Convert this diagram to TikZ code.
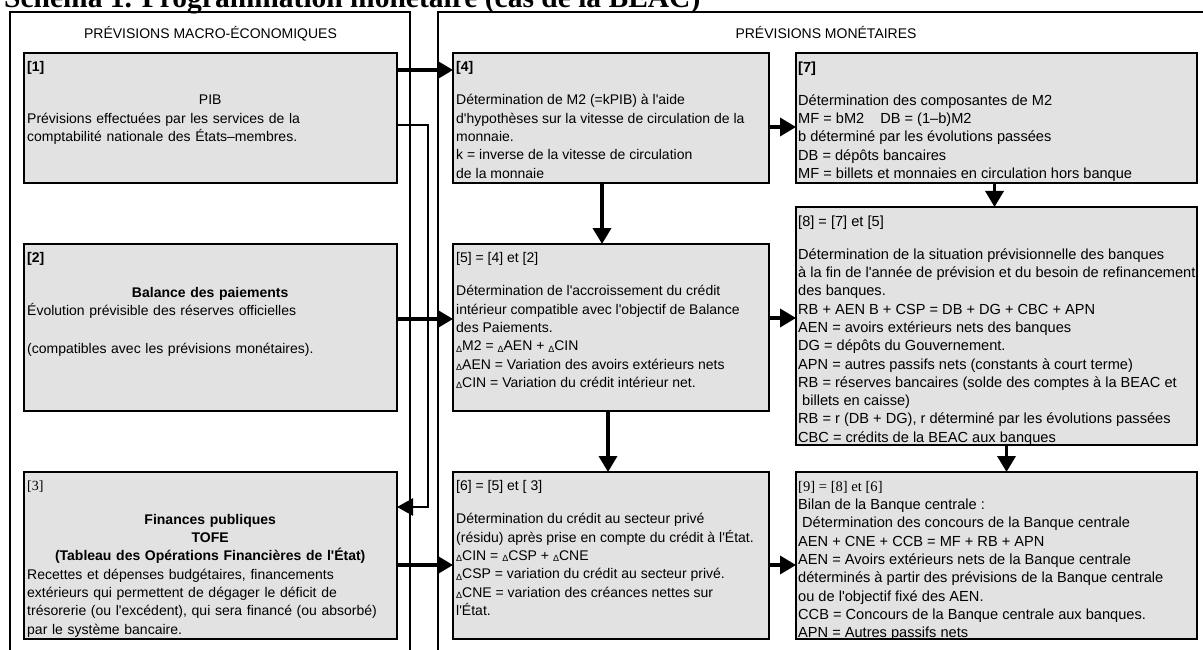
\documentclass[tikz,border=0pt]{standalone}
\usepackage{fontspec}
\newfontfamily\arialfont{Liberation Sans}
\newfontfamily\timesfont{Liberation Serif}
\usetikzlibrary{positioning, arrows.meta}
\definecolor{boxgray}{RGB}{226,226,226}
\newcommand{\dlt}{\raisebox{-1.5pt}{\fontsize{9}{9}\selectfont Δ}}

\begin{document}
\begin{tikzpicture}[
    x=1pt, y=-1pt,
    frame/.style={draw, line width=1.4pt, anchor=north west, inner sep=0pt, outer sep=0pt},
    box/.style={draw, fill=boxgray, line width=1.8pt, inner sep=0pt, outer sep=0pt},
    txt/.style={align=left, inner sep=0pt, font=\arialfont\fontsize{14}{18.3}\selectfont},
    txtwide/.style={txt, font=\arialfont\fontsize{14.6}{18.3}\selectfont},
    head/.style={anchor=base, inner sep=0pt, font=\arialfont\fontsize{14}{17}\selectfont},
    arrow/.style={draw, line width=3.5pt, -{Triangle[length=16pt, width=18pt]}},
    link/.style={draw, line width=2.5pt, -{Triangle[length=16pt, width=17pt]}}
  ]
  \useasboundingbox (0,0) rectangle (1203,650);

  \node (title) [anchor=base west, inner sep=0pt, font=\timesfont\bfseries\fontsize{29.5}{30}\selectfont]
    at (4,8) {Schéma 1. Programmation monétaire (cas de la BEAC)};

  % frames
  \node (macro) [frame, minimum width=400pt, minimum height=700pt] at (10,12) {};
  \node (monet) [frame, minimum width=900pt, minimum height=700pt] at (438,12) {};
  \node (hmacro) [head] at (210.5,39) {PRÉVISIONS MACRO-ÉCONOMIQUES};
  \node (hmonet) [head] at (826,39) {PRÉVISIONS MONÉTAIRES};

  % boxes
  \node (b1) [box, minimum width=373pt, minimum height=130pt, anchor=north west] at (24,53) {};
  \node (b2) [box, minimum width=373pt, minimum height=167pt, below=61pt of b1] {};
  \node (b3) [box, minimum width=373pt, minimum height=167pt, below=61pt of b2] {};
  \node (b4) [box, minimum width=316pt, minimum height=130pt, right=56pt of b1] {};
  \node (b5) [box, minimum width=316pt, minimum height=167pt, below=61pt of b4] {};
  \node (b6) [box, minimum width=316pt, minimum height=167pt, below=61pt of b5] {};
  \node (b7) [box, minimum width=401pt, minimum height=130pt, right=27pt of b4] {};
  \node (b8) [box, minimum width=401pt, minimum height=238pt, below=24pt of b7] {};
  \node (b9) [box, minimum width=401pt, minimum height=167pt, below=27pt of b8] {};

  % texts
  \node (t1) [txt, text width=366pt, below right=8.5pt and 3pt of b1.north west] {%
    \textbf{[1]}\\[14.7pt]
    \makebox[\linewidth]{PIB}\\
    Prévisions effectuées par les services de la\\
    comptabilité nationale des États–membres.};
  \node (t2) [txt, text width=366pt, below right=8.5pt and 3pt of b2.north west] {%
    \textbf{[2]}\\[16pt]
    \makebox[\linewidth]{\textbf{Balance des paiements}}\\
    Évolution prévisible des réserves officielles\\[20pt]
    (compatibles avec les prévisions monétaires).};
  \node (t3) [txt, text width=366pt, below right=9pt and 3pt of b3.north west] {%
    {\timesfont [3]}\\[15pt]
    \makebox[\linewidth]{\textbf{Finances publiques}}\\
    \makebox[\linewidth]{\textbf{TOFE}}\\
    \makebox[\linewidth]{\textbf{(Tableau des Opérations Financières de l'État)}}\\
    Recettes et dépenses budgétaires, financements\\
    extérieurs qui permettent de dégager le déficit de\\
    trésorerie (ou l'excédent), qui sera financé (ou absorbé)\\
    par le système bancaire.};
  \node (t4) [txt, below right=8.5pt and 3pt of b4.north west] {%
    \textbf{[4]}\\[14.7pt]
    Détermination de M2 (=kPIB) à l'aide\\
    d'hypothèses sur la vitesse de circulation de la\\
    monnaie.\\
    k = inverse de la vitesse de circulation\\
    de la monnaie};
  \node (t5) [txt, below right=8.5pt and 3pt of b5.north west] {%
    [5] = [4] et [2]\\[14.7pt]
    Détermination de l'accroissement du crédit\\
    intérieur compatible avec l'objectif de Balance\\
    des Paiements.\\
    \dlt M2 = \dlt AEN + \dlt CIN\\
    \dlt AEN = Variation des avoirs extérieurs nets\\
    \dlt CIN = Variation du crédit intérieur net.};
  \node (t6) [txt, below right=8.5pt and 3pt of b6.north west] {%
    [6] = [5] et [ 3]\\[14.7pt]
    Détermination du crédit au secteur privé\\
    (résidu) après prise en compte du crédit à l'État.\\
    \dlt CIN = \dlt CSP + \dlt CNE\\
    \dlt CSP = variation du crédit au secteur privé.\\
    \dlt CNE = variation des créances nettes sur\\
    l'État.};
  \node (t7) [txtwide, below right=8.5pt and 2pt of b7.north west] {%
    \textbf{[7]}\\[14.7pt]
    Détermination des composantes de M2\\
    MF = bM2\hspace{16pt}DB = (1–b)M2\\
    b déterminé par les évolutions passées\\
    DB = dépôts bancaires\\
    MF = billets et monnaies en circulation hors banque};
  \node (t8) [txtwide, below right=8.5pt and 2pt of b8.north west] {%
    [8] = [7] et [5]\\[14.7pt]
    Détermination de la situation prévisionnelle des banques\\
    à la fin de l'année de prévision et du besoin de refinancement\\
    des banques.\\
    RB + AEN B + CSP = DB + DG + CBC + APN\\
    AEN = avoirs extérieurs nets des banques\\
    DG = dépôts du Gouvernement.\\
    APN = autres passifs nets (constants à court terme)\\
    RB = réserves bancaires (solde des comptes à la BEAC et\\
    \hspace{4pt}billets en caisse)\\
    RB = r (DB + DG), r déterminé par les évolutions passées\\
    CBC = crédits de la BEAC aux banques};
  \node (t9) [txtwide, below right=9pt and 2pt of b9.north west] {%
    {\timesfont [9] = [8] et [6]}\\
    Bilan de la Banque centrale :\\
    \hspace{4pt}Détermination des concours de la Banque centrale\\
    AEN + CNE + CCB = MF + RB + APN\\
    AEN = Avoirs extérieurs nets de la Banque centrale\\
    déterminés à partir des prévisions de la Banque centrale\\
    ou de l'objectif fixé des AEN.\\
    CCB = Concours de la Banque centrale aux banques.\\
    APN = Autres passifs nets};

  % Draw arrows
  \coordinate (bus) at (428,0);
  \coordinate (out1) at ([yshift=-72pt]b1.north east);
  \coordinate (in3) at ([yshift=-35pt]b3.north east);
  \coordinate (e5) at ([yshift=-74pt]b5.north east);
  \coordinate (e6) at ([yshift=-93pt]b6.north east);
  \draw[arrow] ([yshift=-17pt]b1.north east) -- ([yshift=-17pt]b4.north west);
  \draw[link] (out1) -| (bus |- in3) -- (in3);
  \draw[arrow] ([yshift=-75pt]b2.north east) -- ([yshift=-75pt]b5.north west);
  \draw[arrow] ([yshift=-93pt]b3.north east) -- ([yshift=-93pt]b6.north west);
  \draw[arrow] ([yshift=-74pt]b4.north east) -- ([yshift=-74pt]b7.north west);
  \draw[arrow] (e5) -- (e5 -| b8.west);
  \draw[arrow] (e6) -- (e6 -| b9.west);
  \draw[arrow] ([xshift=-9pt]b4.south) -- ([xshift=-9pt]b5.north);
  \draw[arrow] ([xshift=-3pt]b5.south) -- ([xshift=-3pt]b6.north);
  \draw[arrow] ([xshift=-2pt]b7.south) -- ([xshift=-2pt]b8.north);
  \draw[arrow] ([xshift=10pt]b8.south) -- ([xshift=10pt]b9.north);

\end{tikzpicture}
\end{document}
